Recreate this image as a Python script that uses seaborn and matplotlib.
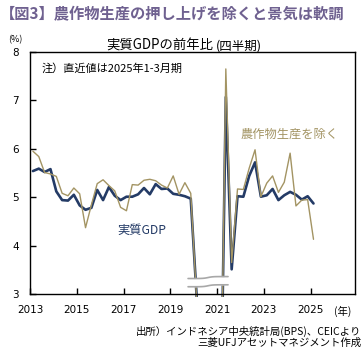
import numpy as np
import pandas as pd
import matplotlib
matplotlib.use("Agg")
import matplotlib.pyplot as plt
import seaborn as sns
from matplotlib.patches import Rectangle

# ---- data (quarterly, y/y %) ----
years = list(range(2013, 2026))
n_points = 49  # 2013Q1 .. 2025Q1
real_gdp = [5.54, 5.59, 5.52, 5.58,
            5.12, 4.94, 4.93, 5.05,
            4.83, 4.74, 4.78, 5.15,
            4.94, 5.21, 5.03, 4.94,
            5.01, 5.01, 5.06, 5.19,
            5.06, 5.27, 5.17, 5.18,
            5.07, 5.05, 5.02, 4.97,
            2.97, -5.32, -3.49, -2.17,
            -0.70, 7.07, 3.51, 5.02,
            5.01, 5.44, 5.72, 5.01,
            5.04, 5.17, 4.94, 5.04,
            5.11, 5.05, 4.95, 5.02,
            4.87]
ex_agri = [5.95, 5.84, 5.51, 5.48,
           5.43, 5.08, 5.03, 5.19,
           5.07, 4.37, 4.84, 5.28,
           5.36, 5.24, 5.13, 4.79,
           4.72, 5.26, 5.25, 5.35,
           5.37, 5.34, 5.25, 5.19,
           5.44, 5.06, 5.30, 5.08,
           2.90, -5.60, -3.80, -2.40,
           -0.90, 7.65, 3.65, 5.17,
           5.16, 5.60, 5.98, 5.01,
           5.29, 5.44, 5.10, 5.31,
           5.91, 4.82, 4.94, 4.95,
           4.13]
xticks = [2013, 2015, 2017, 2019, 2021, 2023, 2025]
yticks = [3, 4, 5, 6, 7, 8]

# quarter mid positions on a year axis
xpos = [y + q / 4 + 0.125 for y in years for q in range(4)][:n_points]
df = pd.DataFrame({"t": xpos, "gdp": real_gdp, "exagri": ex_agri})

NAVY = "#243b66"
KHAKI = "#a39463"
TITLE_C = "#6f6190"

sns.set_theme(style="white")
plt.rcParams["font.family"] = ["Noto Sans CJK JP", "DejaVu Sans"]

W, H = 362, 348
fig = plt.figure(figsize=(W / 100, H / 100), dpi=100)
L, R, T, B = 30, 355, 52, 294
ax = fig.add_axes([L / W, 1 - B / H, (R - L) / W, (B - T) / H])

sns.lineplot(data=df, x="t", y="gdp", color=NAVY, lw=1.9, ax=ax)
sns.lineplot(data=df, x="t", y="exagri", color=KHAKI, lw=1.0, ax=ax)

for ln in ax.lines:
    ln.set_clip_path(Rectangle((0, -0.014), 1, 1.014, transform=ax.transAxes))

ax.set_xlim(2013, 2026.9)
ax.set_ylim(3, 8)
ax.set_xticks(xticks)
ax.set_yticks(yticks)
ax.set_xticklabels([str(v) for v in xticks], family="DejaVu Sans")
ax.set_yticklabels([str(v) for v in yticks], family="DejaVu Sans")
ax.tick_params(axis="both", direction="in", length=4, width=1, colors="black",
               labelsize=7.5, pad=8, left=True, bottom=True)
ax.set_xlabel("")
ax.set_ylabel("")
for s in ax.spines.values():
    s.set_visible(True)
    s.set_color("black")
    s.set_linewidth(1.0)

# axis break decoration
bx = np.linspace(2019.76, 2021.47, 60)
mid = (bx[0] + bx[-1]) / 2
wave = 0.02 * np.tanh((bx - mid) * 5)
up = 3.34 + wave
lo = 3.17 + wave
ax.fill_between(bx, lo, up, color="white", zorder=5, lw=0)
ax.plot(bx, up, color="#a8a8a8", lw=1.2, zorder=6)
ax.plot(bx, lo, color="#a8a8a8", lw=1.2, zorder=6)

def ft(x, y, s, va="center", **kw):
    fig.text(x / W, 1 - y / H, s, va=va, **kw)

ft(0, 14, "【図3】農作物生産の押し上げを除くと景気は軟調", fontsize=11,
   weight="bold", color=TITLE_C, ha="left")
ft(213, 50, "実質GDPの前年比", va="baseline", fontsize=9.6, color="black", ha="right")
ft(216, 50, "(四半期)", va="baseline", fontsize=9, color="black", ha="left")
ft(15, 40, "(%)", fontsize=6.5, color="black", ha="center")
ft(343, 311, "(年)", fontsize=7.5, color="black", ha="center")
ft(42, 68, "注）直近値は2025年1-3月期", fontsize=8, color="black", ha="left")
ft(241, 134, "農作物生産を除く", fontsize=8.8, color=KHAKI, ha="left")
ft(117, 230, "実質GDP", fontsize=8.8, color=NAVY, ha="left")
ft(361, 331, "出所）インドネシア中央統計局(BPS)、CEICより", fontsize=7.5,
   color="black", ha="right")
ft(361, 343, "三菱UFJアセットマネジメント作成", fontsize=7.5,
   color="black", ha="right")

fig.savefig("out.png", dpi=100)
